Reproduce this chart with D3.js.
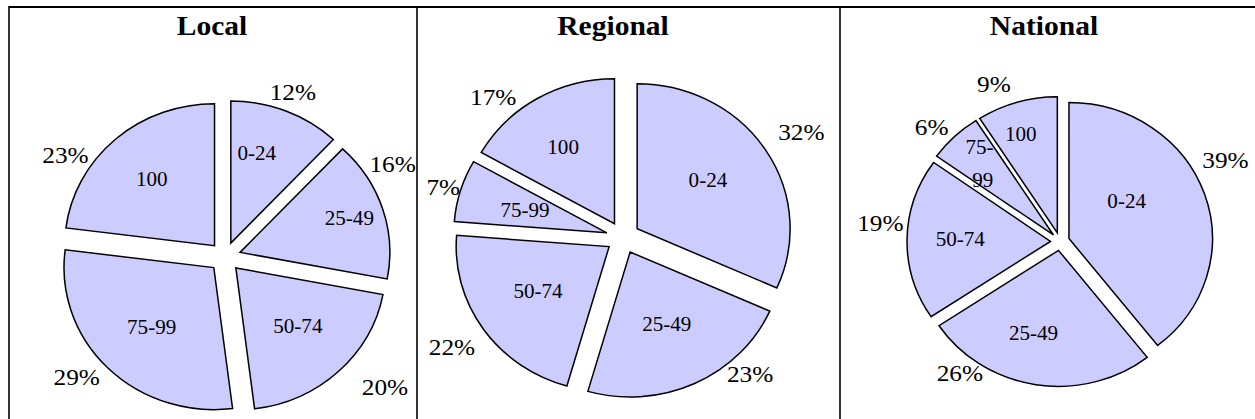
<!DOCTYPE html>
<html><head><meta charset="utf-8">
<script src="https://cdn.jsdelivr.net/npm/d3@7"></script>
<style>html,body{margin:0;padding:0;background:#fff;} svg{display:block;}</style>
</head><body>
<svg id="chart" width="1255" height="419"></svg>
<script>
// ---- data ----
const categories = ["0-24", "25-49", "50-74", "75-99", "100"];
const panelTitles = ["Local", "Regional", "National"];
const localValues = [12, 16, 20, 29, 23];
const regionalValues = [32, 23, 22, 7, 17];
const nationalValues = [39, 26, 19, 6, 9];
const seriesValues = [localValues, regionalValues, nationalValues];

// ---- layout (positions / sizes / styles) ----
const layout = [
  {x0: 9, x1: 417, cx: 225, cy: 257, r: 142, explode: 15, rIn: 105, rOut: 180, titleX: 212,
   inNudge: [[-9,-6],[19,-6],[-3,-7],[5,-4],[0,1]],
   outNudge: [[-2,2],[-13,-38],[30,-1],[-14,-7],[-34,33]], wrap: []},
  {x0: 417, x1: 840, cx: 623, cy: 237.5, r: 145, explode: 16, rIn: 105, rOut: 180, titleX: 613,
   inNudge: [[-8,0],[-3,-9],[6,-6],[8,3],[-4,0]],
   outNudge: [[19,-8],[47,-27],[-15,7],[2,2],[-34,15]], wrap: []},
  {x0: 840, x1: 1256, cx: 1060, cy: 241.5, r: 136, explode: 9, rIn: 105, rOut: 175, titleX: 1044,
   inNudge: [[-38,-6],[-9,-12],[11,-1],[-4,-2],[-8,-7]],
   outNudge: [[-9,-24],[-71,-41],[5,-16],[-1,12],[-14,10]], wrap: ["75-99"]}
];
const sx = 1.055;           // horizontal stretch of the original picture
const fillColor = "#CCCCFF";
const fontFam = "'Liberation Serif', 'Times New Roman', serif";

const svg = d3.select("#chart");
const defs = svg.append("defs");

// frame lines
svg.append("line").attr("x1", 9).attr("x2", 1255).attr("y1", 7).attr("y2", 7)
  .attr("stroke", "#000").attr("stroke-width", 2);
[9, 417, 840].forEach(x => {
  svg.append("line").attr("x1", x).attr("x2", x).attr("y1", 6).attr("y2", 419)
    .attr("stroke", "#000").attr("stroke-width", 1.6);
});

const pie = d3.pie().sort(null).value(d => d);

seriesValues.forEach((values, i) => {
  const L = layout[i];
  defs.append("clipPath").attr("id", "clip" + i).append("rect")
    .attr("x", L.x0 + 1).attr("y", 8).attr("width", L.x1 - L.x0 - 2).attr("height", 420);
  const g = svg.append("g").attr("clip-path", `url(#clip${i})`);

  // title
  g.append("text").attr("transform", `translate(${L.titleX},35) scale(${sx},1)`)
    .attr("text-anchor", "middle").attr("font-family", fontFam)
    .attr("font-weight", "bold").attr("font-size", 28).text(panelTitles[i]);

  const arcs = pie(values);
  const arc = d3.arc().innerRadius(0).outerRadius(L.r);
  const dirOf = a => {
    const m = (a.startAngle + a.endAngle) / 2;
    return [Math.sin(m), -Math.cos(m)];
  };

  // outer percent labels (below slices)
  g.append("g").selectAll("text").data(arcs).join("text")
    .attr("transform", (a, k) => {
      const [ux, uy] = dirOf(a);
      const x = L.cx + sx * L.rOut * ux + L.outNudge[k][0];
      const y = L.cy + L.rOut * uy + L.outNudge[k][1];
      return `translate(${x},${y}) scale(${sx},1)`;
    })
    .attr("text-anchor", "middle").attr("dy", "0.34em")
    .attr("font-family", fontFam).attr("font-size", 24)
    .text(a => a.data + "%");

  // slices
  const pg = g.append("g").attr("transform", `translate(${L.cx},${L.cy}) scale(${sx},1)`);
  pg.selectAll("path").data(arcs).join("path")
    .attr("transform", a => {
      const [ux, uy] = dirOf(a);
      return `translate(${L.explode * ux},${L.explode * uy})`;
    })
    .attr("d", arc)
    .attr("fill", fillColor).attr("stroke", "#000").attr("stroke-width", 1.5)
    .attr("vector-effect", "non-scaling-stroke").attr("stroke-linejoin", "miter");

  // inner category labels
  const inner = g.append("g").selectAll("text").data(arcs).join("text")
    .attr("transform", (a, k) => {
      const [ux, uy] = dirOf(a);
      const x = L.cx + sx * L.rIn * ux + L.inNudge[k][0];
      const y = L.cy + L.rIn * uy + L.inNudge[k][1];
      return `translate(${x},${y}) scale(${sx},1)`;
    })
    .attr("text-anchor", "middle")
    .attr("font-family", fontFam).attr("font-size", 20);
  inner.each(function(a, k) {
    const t = d3.select(this);
    const name = categories[k];
    if (L.wrap.includes(name)) {
      const parts = [name.slice(0, name.indexOf("-") + 1), name.slice(name.indexOf("-") + 1)];
      t.append("tspan").attr("x", 0).attr("y", -16.5 + 6.8).text(parts[0]);
      t.append("tspan").attr("x", 3).attr("y", 16.5 + 6.8).text(parts[1]);
    } else {
      t.attr("dy", "0.34em").text(name);
    }
  });
});
</script>
</body></html>
